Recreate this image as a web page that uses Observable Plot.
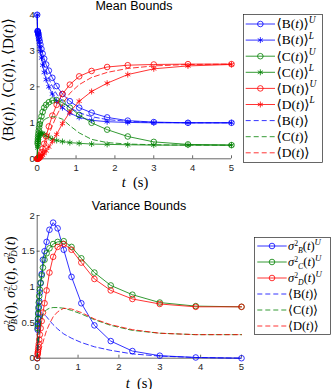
<!DOCTYPE html>
<html><head><meta charset="utf-8">
<script src="https://cdn.jsdelivr.net/npm/d3@7"></script>
<script src="https://cdn.jsdelivr.net/npm/@observablehq/plot@0.6"></script>
<style>
body{margin:0;background:#fff;}
#wrap{position:relative;width:331px;height:389px;overflow:hidden;background:#fff;}
.chart{position:absolute;left:0;}
#overlay{position:absolute;left:0;top:0;}
</style></head><body><div id="wrap"></div><script>
// ---- data ----
const t = [0, 0.011, 0.014, 0.018, 0.023, 0.03, 0.039, 0.05, 0.065, 0.084, 0.11, 0.14, 0.18, 0.23, 0.3, 0.39, 0.5, 0.65, 0.84, 1.08, 1.4, 1.8, 2.33, 3.0, 3.88, 5.0];
// Mean bounds
const BU = [4.0, 3.55, 3.54, 3.52, 3.5, 3.47, 3.42, 3.35, 3.27, 3.17, 3.05, 2.92, 2.78, 2.62, 2.45, 2.25, 2.02, 1.8, 1.6, 1.42, 1.28, 1.15, 1.06, 1.02, 1.0, 1.0];
const BL = [4.0, 3.52, 3.5, 3.48, 3.45, 3.4, 3.33, 3.25, 3.12, 2.98, 2.8, 2.6, 2.4, 2.2, 2.0, 1.8, 1.6, 1.42, 1.27, 1.15, 1.07, 1.03, 1.01, 1.0, 1.0, 1.0];
const CU = [0, 0.42, 0.48, 0.55, 0.62, 0.7, 0.78, 0.87, 0.96, 1.06, 1.18, 1.3, 1.42, 1.5, 1.57, 1.62, 1.63, 1.56, 1.42, 1.22, 1.0, 0.81, 0.62, 0.47, 0.4, 0.38];
const CL = [0, 0.3, 0.35, 0.4, 0.46, 0.52, 0.58, 0.63, 0.67, 0.7, 0.71, 0.7, 0.68, 0.64, 0.6, 0.55, 0.51, 0.48, 0.45, 0.43, 0.41, 0.4, 0.39, 0.38, 0.38, 0.38];
const DU = [0, 0.003, 0.005, 0.008, 0.012, 0.02, 0.03, 0.045, 0.07, 0.11, 0.18, 0.28, 0.42, 0.62, 0.9, 1.2, 1.5, 1.8, 2.06, 2.29, 2.44, 2.55, 2.6, 2.62, 2.63, 2.63];
const DL = [0, 0, 0.001, 0.002, 0.004, 0.006, 0.01, 0.015, 0.025, 0.04, 0.065, 0.1, 0.15, 0.22, 0.33, 0.48, 0.68, 0.98, 1.3, 1.6, 1.87, 2.1, 2.34, 2.5, 2.58, 2.62];
const Bm = [4.0, 3.53, 3.52, 3.5, 3.47, 3.43, 3.37, 3.3, 3.2, 3.08, 2.93, 2.76, 2.59, 2.41, 2.22, 2.02, 1.8, 1.6, 1.42, 1.28, 1.17, 1.09, 1.04, 1.01, 1.0, 1.0];
const Cm = [0, 0.36, 0.41, 0.47, 0.54, 0.61, 0.68, 0.75, 0.82, 0.88, 0.95, 1.02, 1.08, 1.12, 1.15, 1.17, 1.16, 1.1, 0.92, 0.72, 0.54, 0.45, 0.41, 0.39, 0.38, 0.38];
const Dm = [0, 0, 0.005, 0.01, 0.015, 0.02, 0.03, 0.04, 0.06, 0.09, 0.14, 0.22, 0.32, 0.46, 0.66, 0.92, 1.2, 1.52, 1.82, 2.06, 2.26, 2.4, 2.51, 2.58, 2.62, 2.63];
// Variance bounds
const VB = [0, 0.4, 0.45, 0.5, 0.56, 0.64, 0.72, 0.8, 0.92, 1.05, 1.18, 1.38, 1.5, 1.63, 1.8, 1.9, 1.82, 1.52, 1.14, 0.77, 0.46, 0.24, 0.1, 0.035, 0.01, 0];
const VC = [0, 0.42, 0.48, 0.55, 0.62, 0.7, 0.78, 0.87, 0.96, 1.06, 1.16, 1.27, 1.38, 1.47, 1.54, 1.6, 1.63, 1.64, 1.56, 1.4, 1.2, 1.02, 0.89, 0.78, 0.73, 0.72];
const VD = [0, 0.05, 0.07, 0.09, 0.12, 0.16, 0.2, 0.26, 0.33, 0.42, 0.52, 0.64, 0.77, 0.95, 1.2, 1.42, 1.56, 1.6, 1.52, 1.34, 1.11, 0.95, 0.83, 0.76, 0.72, 0.72];
const VBm = [0, 0.1, 0.13, 0.16, 0.2, 0.26, 0.32, 0.4, 0.48, 0.55, 0.6, 0.62, 0.61, 0.58, 0.53, 0.47, 0.41, 0.34, 0.28, 0.22, 0.16, 0.11, 0.06, 0.03, 0.01, 0];
const VCm = [0, 0.1, 0.12, 0.15, 0.19, 0.24, 0.3, 0.36, 0.43, 0.5, 0.56, 0.61, 0.65, 0.68, 0.7, 0.71, 0.71, 0.7, 0.67, 0.62, 0.54, 0.46, 0.39, 0.35, 0.33, 0.33];
const VDm = [0, 0, 0.01, 0.01, 0.02, 0.03, 0.04, 0.06, 0.08, 0.11, 0.16, 0.22, 0.3, 0.39, 0.48, 0.58, 0.65, 0.7, 0.69, 0.64, 0.55, 0.47, 0.4, 0.35, 0.33, 0.33];
const xTicks = [0, 1, 2, 3, 4, 5];
const yTicksTop = [0, 1, 2, 3, 4];
const yTicksBot = [0, 0.5, 1, 1.5, 2];

// ---- styles ----
const BLUE = "#0000ff", GREEN = "#008000", RED = "#ff0000";
const SERIF = "'Liberation Serif', 'DejaVu Serif', serif";
const SANS = "'Liberation Sans', Arial, sans-serif";
const AX = "#262626";
const DASH = "5,3";

const rows = (ys) => t.map((x, i) => ({t: x, v: ys[i]}));

function seriesMarks(list) {
  const marks = [];
  for (const s of list) {
    const d = rows(s.y);
    marks.push(Plot.line(d, {x: "t", y: "v", stroke: s.c, strokeWidth: 0.8, strokeDasharray: s.dash ? DASH : null}));
    if (s.sym) marks.push(Plot.dot(d, {x: "t", y: "v", r: 2.8, symbol: s.sym, stroke: s.c, strokeWidth: 0.8, fill: "none"}));
  }
  return marks;
}

function axesMarks(yTicks, plotW, plotH) {
  return [
    Plot.ruleX([0], {stroke: AX, strokeWidth: 0.7}),
    Plot.ruleY([yTicks[0]], {stroke: AX, strokeWidth: 0.7}),
    Plot.tickX(xTicks, {x: d => d, insetTop: plotH - 3, stroke: AX, strokeWidth: 0.7}),
    Plot.tickY(yTicks, {y: d => d, insetRight: plotW - 3, stroke: AX, strokeWidth: 0.7}),
    Plot.axisX({ticks: xTicks, tickSize: 0, tickPadding: 5, label: null, tickFormat: d => String(d)}),
    Plot.axisY({ticks: yTicks, tickSize: 0, tickPadding: 2.5, label: null, tickFormat: d => String(d)})
  ];
}

const wrap = d3.select("#wrap");

// top chart
const T = {w: 331, h: 195, ml: 36.7, mr: 100, mt: 14.3, mb: 36.7};
const topChart = Plot.plot({
  width: T.w, height: T.h, marginLeft: T.ml, marginRight: T.mr, marginTop: T.mt, marginBottom: T.mb,
  x: {domain: [0, 5]}, y: {domain: [0, 4]},
  style: {fontFamily: SANS, fontSize: "9.5px", color: AX, background: "transparent", overflow: "visible"},
  marks: [
    ...axesMarks(yTicksTop, T.w - T.ml - T.mr, T.h - T.mt - T.mb),
    ...seriesMarks([
      {y: BU, c: BLUE, sym: "circle"}, {y: BL, c: BLUE, sym: "asterisk"},
      {y: CU, c: GREEN, sym: "circle"}, {y: CL, c: GREEN, sym: "asterisk"},
      {y: DU, c: RED, sym: "circle"}, {y: DL, c: RED, sym: "asterisk"},
      {y: Bm, c: BLUE, dash: true}, {y: Cm, c: GREEN, dash: true}, {y: Dm, c: RED, dash: true}
    ])
  ]
});
topChart.classList.add("chart"); topChart.style.top = "0px";
wrap.node().appendChild(topChart);

// bottom chart
const B = {w: 331, h: 194, ml: 36.7, mr: 90, mt: 20, mb: 31.3, top: 195};
const botChart = Plot.plot({
  width: B.w, height: B.h, marginLeft: B.ml, marginRight: B.mr, marginTop: B.mt, marginBottom: B.mb,
  x: {domain: [0, 5]}, y: {domain: [0, 2]},
  style: {fontFamily: SANS, fontSize: "9.5px", color: AX, background: "transparent", overflow: "visible"},
  marks: [
    ...axesMarks(yTicksBot, B.w - B.ml - B.mr, B.h - B.mt - B.mb),
    ...seriesMarks([
      {y: VB, c: BLUE, sym: "circle"}, {y: VC, c: GREEN, sym: "circle"}, {y: VD, c: RED, sym: "circle"},
      {y: VBm, c: BLUE, dash: true}, {y: VCm, c: GREEN, dash: true}, {y: VDm, c: RED, dash: true}
    ])
  ]
});
botChart.classList.add("chart"); botChart.style.top = B.top + "px";
wrap.node().appendChild(botChart);

// ---- overlay: titles, axis labels, legends ----
const ov = wrap.append("svg").attr("id", "overlay").attr("width", 331).attr("height", 389);

function math(parent, x, y, parts, {size = 12, anchor = "start", rotate = 0, stack = true} = {}) {
  const tx = parent.append("text").attr("x", x).attr("y", y).attr("font-size", size)
    .attr("text-anchor", anchor).attr("font-family", SERIF).attr("fill", "#000");
  if (rotate) tx.attr("transform", `rotate(${rotate},${x},${y})`);
  let cur = 0;
  const up = -0.42 * size, down = 0.25 * size, small = 0.7 * size;
  const sUp = -0.34 * size, sDown = 0.2 * size, sSmall = 0.62 * size;
  for (const [s, k] of parts) {
    if (k === "ss") {
      tx.append("tspan").attr("dy", sUp - cur).attr("font-size", sSmall).text(s[0]);
      tx.append("tspan").attr("dx", stack ? -0.5 * sSmall * s[0].length : 0).attr("dy", sDown - sUp)
        .attr("font-size", sSmall).attr("font-style", "italic").text(s[1]);
      cur = sDown;
    } else {
      const target = k.startsWith("sup") ? up : k.startsWith("sub") ? down : 0;
      const sp = tx.append("tspan").attr("dy", target - cur).text(s);
      if (target !== 0) sp.attr("font-size", small);
      if (k.endsWith("i")) sp.attr("font-style", "italic");
      cur = target;
    }
  }
  return tx;
}

// titles
ov.append("text").attr("x", 134).attr("y", 9.5).attr("text-anchor", "middle")
  .attr("font-family", SANS).attr("font-size", 12.5).attr("fill", "#000").text("Mean Bounds");
ov.append("text").attr("x", 139).attr("y", 210).attr("text-anchor", "middle")
  .attr("font-family", SANS).attr("font-size", 12.5).attr("fill", "#000").text("Variance Bounds");

// x labels
const xl = [["t", "i"], ["\u2002(s)", "r"]];
math(ov, 135, 186.5, xl, {size: 14.5, anchor: "middle"});
math(ov, 139, 387.5, xl, {size: 14.5, anchor: "middle"});

// y labels
const br = (L) => [["⟨" + L + "(", "r"], ["t", "i"], [")⟩", "r"]];
math(ov, 13, 80, [...br("B"), [", ", "r"], ...br("C"), [", ", "r"], ...br("D")], {size: 15, anchor: "middle", rotate: -90});
const sg = (L) => [["σ", "i"], [["2", L], "ss"], ["(", "r"], ["t", "i"], [")", "r"]];
math(ov, 14.5, 284, [...sg("B"), [", ", "r"], ...sg("C"), [", ", "r"], ...sg("D")], {size: 14.5, anchor: "middle", rotate: -90});

// legends
function legend(box, items, {x0, x1, tx, y0, dy, size}) {
  const g = ov.append("g");
  g.append("rect").attr("x", box.x).attr("y", box.y).attr("width", box.w).attr("height", box.h)
    .attr("fill", "#fff").attr("stroke", AX).attr("stroke-width", 0.7);
  items.forEach((it, i) => {
    const y = y0 + i * dy;
    g.append("line").attr("x1", x0).attr("x2", x1).attr("y1", y).attr("y2", y)
      .attr("stroke", it.c).attr("stroke-width", 0.8).attr("stroke-dasharray", it.dash ? DASH : null);
    if (it.sym) {
      const type = it.sym === "circle" ? d3.symbolCircle : d3.symbolAsterisk;
      g.append("path").attr("d", d3.symbol(type, Math.PI * 2.8 * 2.8)())
        .attr("transform", `translate(${(x0 + x1) / 2},${y})`)
        .attr("fill", "none").attr("stroke", it.c).attr("stroke-width", 0.8);
    }
    math(g, tx, y + 4.3, it.label, {size, stack: false});
  });
}
const bU = (L) => [...br(L), ["U", "supi"]];
const bL = (L) => [...br(L), ["L", "supi"]];
legend({x: 243.5, y: 14.5, w: 79, h: 148}, [
  {c: BLUE, sym: "circle", label: bU("B")},
  {c: BLUE, sym: "asterisk", label: bL("B")},
  {c: GREEN, sym: "circle", label: bU("C")},
  {c: GREEN, sym: "asterisk", label: bL("C")},
  {c: RED, sym: "circle", label: bU("D")},
  {c: RED, sym: "asterisk", label: bL("D")},
  {c: BLUE, dash: true, label: br("B")},
  {c: GREEN, dash: true, label: br("C")},
  {c: RED, dash: true, label: br("D")}
], {x0: 245.7, x1: 275, tx: 276.5, y0: 24, dy: 16.1, size: 13.5});
const sgU = (L) => [...sg(L), ["U", "supi"]];
legend({x: 254.5, y: 237.5, w: 76, h: 97}, [
  {c: BLUE, sym: "circle", label: sgU("B")},
  {c: GREEN, sym: "circle", label: sgU("C")},
  {c: RED, sym: "circle", label: sgU("D")},
  {c: BLUE, dash: true, label: br("B")},
  {c: GREEN, dash: true, label: br("C")},
  {c: RED, dash: true, label: br("D")}
], {x0: 257.3, x1: 286.7, tx: 288, y0: 246, dy: 16, size: 12.5});
</script></body></html>
